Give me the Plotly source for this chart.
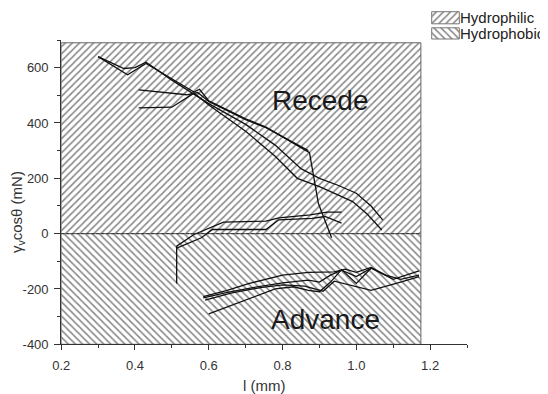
import plotly.graph_objects as go

# ---- data ----
x_min, x_max = 0.2, 1.3
y_min, y_max = -400, 700
region_right = 1.175
region_top = 690

x_tickvals = [0.2, 0.4, 0.6, 0.8, 1.0, 1.2]
x_ticktext = ["0.2", "0.4", "0.6", "0.8", "1.0", "1.2"]
y_tickvals = [-400, -200, 0, 200, 400, 600]
y_ticktext = ["-400", "-200", "0", "200", "400", "600"]

# receding curves
rec1_x = [0.30, 0.38, 0.43, 0.50, 0.56, 0.575, 0.60, 0.70, 0.755, 0.873, 0.887, 0.897, 0.933]
rec1_y = [640, 574, 615, 560, 512, 522, 480, 415, 385, 293, 180, 110, -15]
rec2_x = [0.30, 0.37, 0.40, 0.43, 0.50, 0.56, 0.60, 0.70, 0.78, 0.85, 0.90, 0.95, 1.00, 1.04, 1.072]
rec2_y = [640, 597, 600, 620, 555, 505, 470, 395, 320, 235, 200, 175, 146, 100, 49]
rec3_x = [0.41, 0.50, 0.56, 0.60, 0.70, 0.78, 0.84, 0.90, 0.95, 0.99, 1.03, 1.069]
rec3_y = [455, 457, 508, 465, 370, 280, 200, 170, 140, 116, 70, 13]
rec4_x = [0.41, 0.54, 0.57, 0.60, 0.70, 0.755, 0.87]
rec4_y = [520, 502, 510, 478, 412, 383, 300]

# near-zero curves
mid1_x = [0.513, 0.513, 0.56, 0.64, 0.755, 0.79, 0.875, 0.92, 0.96]
mid1_y = [-180, -45, -3, 42, 45, 57, 68, 78, 78]
mid2_x = [0.513, 0.58, 0.61, 0.755, 0.79, 0.88, 0.915, 0.96]
mid2_y = [-52, -15, 15, 15, 50, 55, 62, 38]

# advancing curves
adv1_x = [0.585, 0.65, 0.71, 0.80, 0.87, 0.94, 0.97, 1.00, 1.04, 1.08, 1.12, 1.17]
adv1_y = [-228, -205, -180, -150, -140, -138, -128, -140, -122, -150, -165, -150]
adv2_x = [0.585, 0.65, 0.72, 0.80, 0.87, 0.90, 0.93, 0.96, 1.00, 1.04, 1.10, 1.17]
adv2_y = [-232, -212, -195, -178, -168, -175, -150, -132, -155, -125, -165, -135]
adv3_x = [0.59, 0.66, 0.74, 0.80, 0.86, 0.91, 0.94, 0.98, 1.04, 1.12, 1.17]
adv3_y = [-240, -215, -195, -185, -190, -208, -172, -185, -205, -175, -155]
adv4_x = [0.60, 0.70, 0.78, 0.83, 0.87, 0.90, 0.93, 0.96, 1.00, 1.04]
adv4_y = [-290, -240, -200, -192, -205, -210, -175, -130, -180, -125]

curves = [
    (rec1_x, rec1_y), (rec2_x, rec2_y), (rec3_x, rec3_y), (rec4_x, rec4_y),
    (mid1_x, mid1_y), (mid2_x, mid2_y),
    (adv1_x, adv1_y), (adv2_x, adv2_y), (adv3_x, adv3_y), (adv4_x, adv4_y),
]

region_names = ["Hydrophilic", "Hydrophobic"]
region_shapes = ["/", "\\"]
labels = ["Recede", "Advance"]
label_pos = [(0.904, 483), (0.916, -309)]

FONT = "Liberation Sans, Arial, sans-serif"
# the page adds an 8px body margin, so the figure is drawn 8px smaller and
# every target pixel position is shifted back by 8px
OFF = 8
W, H = 548 - OFF, 394 - OFF


def fx(px):
    return (px - OFF) / W


def fy(py):
    return 1 - (py - OFF) / H


# plot box in screenshot pixels
PL, PR, PT, PB = 61.2, 467.0, 40.0, 344.3

fig = go.Figure()

pat_common = dict(fgcolor="#111", bgcolor="white", size=5, solidity=0.32)

# hatched regions
fig.add_trace(go.Scatter(
    x=[x_min, region_right, region_right, x_min, x_min],
    y=[0, 0, region_top, region_top, 0],
    fill="toself", mode="lines", name=region_names[0],
    line=dict(color="#666", width=1), fillcolor="white",
    fillpattern=dict(shape=region_shapes[0], **pat_common),
    hoverinfo="skip", showlegend=False,
))
fig.add_trace(go.Scatter(
    x=[x_min, region_right, region_right, x_min, x_min],
    y=[y_min, y_min, 0, 0, y_min],
    fill="toself", mode="lines", name=region_names[1],
    line=dict(color="#666", width=1), fillcolor="white",
    fillpattern=dict(shape=region_shapes[1], **pat_common),
    hoverinfo="skip", showlegend=False,
))
# zero line
fig.add_trace(go.Scatter(
    x=[x_min, region_right], y=[0, 0], mode="lines",
    line=dict(color="#333", width=1, dash="3px,2px"), showlegend=False, hoverinfo="skip",
))

for cx, cy in curves:
    fig.add_trace(go.Scatter(
        x=cx, y=cy, mode="lines", line=dict(color="#111", width=1.3),
        showlegend=False, hoverinfo="skip",
    ))

for txt, (tx, ty) in zip(labels, label_pos):
    fig.add_annotation(x=tx, y=ty, text=txt, showarrow=False,
                       font=dict(family=FONT, size=28, color="#1a1a1a"))

# custom legend (pattern swatches on a helper axis pair, in pixel units)
LX0, LX1 = 431.7, 459.3
LY0, LY1 = 11.5, 39.0
box_rows = [(11.7, 23.8), (27.8, 39.0)]
for name, shp, (r0, r1) in zip(region_names, region_shapes, box_rows):
    fig.add_trace(go.Scatter(
        x=[LX0, LX1, LX1, LX0, LX0], y=[r0, r0, r1, r1, r0],
        xaxis="x2", yaxis="y2", fill="toself", mode="lines",
        line=dict(color="#777", width=1), fillcolor="white",
        fillpattern=dict(shape=shp, **pat_common),
        hoverinfo="skip", showlegend=False,
    ))
    fig.add_annotation(xref="paper", yref="paper", x=fx(LX1), borderpad=0,
                       y=fy((r0 + r1) / 2), xanchor="left", yanchor="middle",
                       text=name, showarrow=False,
                       font=dict(family=FONT, size=15, color="#222"))

# axis titles
fig.add_annotation(xref="paper", yref="paper", x=fx(264), y=fy(385),
                   xanchor="center", yanchor="middle", text="l (mm)", showarrow=False,
                   font=dict(family=FONT, size=15, color="#333"))
fig.add_annotation(xref="paper", yref="paper", x=fx(17), y=fy(212),
                   xanchor="center", yanchor="middle", textangle=-90,
                   text="γ<sub>v</sub>cosθ (mN)", showarrow=False,
                   font=dict(family=FONT, size=15, color="#333"))

fig.update_layout(
    width=W, height=H,
    margin=dict(l=0, r=0, t=0, b=0),
    paper_bgcolor="white", plot_bgcolor="rgba(0,0,0,0)",
    font=dict(family=FONT, color="#333"),
    showlegend=False,
    xaxis=dict(
        domain=[fx(PL), fx(PR)], anchor="y", automargin=False,
        range=[x_min, x_max], showgrid=False, zeroline=False,
        showline=True, linecolor="#333", linewidth=1,
        ticks="outside", ticklen=5, tickcolor="#333", ticklabelstandoff=4,
        tickmode="array", tickvals=x_tickvals, ticktext=x_ticktext,
        minor=dict(ticks="outside", ticklen=3, dtick=0.1, tick0=0.2, tickcolor="#333"),
        tickfont=dict(family=FONT, size=13, color="#333"),
    ),
    yaxis=dict(
        domain=[fy(PB), fy(PT)], anchor="x", automargin=False,
        range=[y_min, y_max], showgrid=False, zeroline=False,
        showline=True, linecolor="#333", linewidth=1,
        ticks="outside", ticklen=6, tickcolor="#333", ticklabelstandoff=3,
        tickmode="array", tickvals=y_tickvals, ticktext=y_ticktext,
        minor=dict(ticks="outside", ticklen=3, dtick=100, tick0=-400, tickcolor="#333"),
        tickfont=dict(family=FONT, size=13, color="#333"),
    ),
    xaxis2=dict(domain=[fx(LX0 - 1), fx(LX1 + 1)], range=[LX0 - 1, LX1 + 1],
                anchor="y2", visible=False, fixedrange=True),
    yaxis2=dict(domain=[fy(LY1 + 1), fy(LY0 - 1)], range=[LY1 + 1, LY0 - 1],
                anchor="x2", visible=False, fixedrange=True),
)

fig.write_html("out.html")
